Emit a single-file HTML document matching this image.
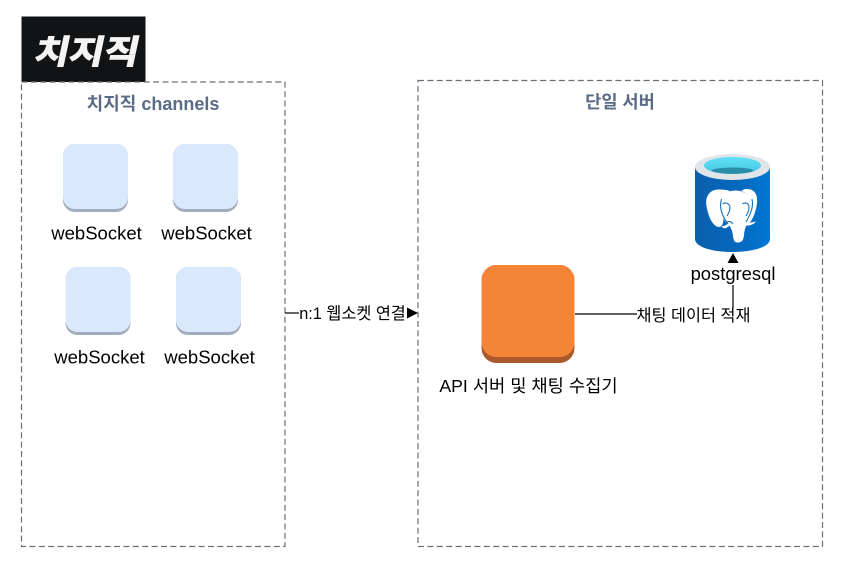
<!DOCTYPE html>
<html>
<head>
<meta charset="utf-8">
<style>
html,body{margin:0;padding:0;background:#fff;width:848px;height:579px;overflow:hidden}
svg{display:block}
text{font-family:"Liberation Sans","Noto Sans CJK KR",sans-serif}
</style>
</head>
<body>
<svg width="848" height="579" viewBox="0 0 848 579" xmlns="http://www.w3.org/2000/svg">
<defs>
<linearGradient id="cyl" x1="0" x2="1" y1="0" y2="0">
<stop offset="0" stop-color="#0a5fad"/><stop offset="0.6" stop-color="#0669bd"/><stop offset="1" stop-color="#0078d4"/>
</linearGradient>
<linearGradient id="water" x1="0" x2="0" y1="0" y2="1">
<stop offset="0" stop-color="#5fe0f5"/><stop offset="1" stop-color="#46c8e6"/>
</linearGradient>
</defs>
<rect width="848" height="579" fill="#fff"/>

<!-- logo -->
<rect x="21.5" y="16.5" width="124" height="65.5" fill="#121314"/>
<text x="85.5" y="63.5" text-anchor="middle" font-size="33" font-weight="700" fill="#f4f4f4" stroke="#f4f4f4" stroke-width="1.2" transform="translate(13 0) skewX(-12)" textLength="104" lengthAdjust="spacingAndGlyphs">치지직</text>

<!-- containers -->
<rect x="21.5" y="82" width="263.5" height="464.5" fill="none" stroke="#6d6f78" stroke-width="1.2" stroke-dasharray="6 3.4"/>
<rect x="418" y="80.5" width="404.5" height="466" fill="none" stroke="#6d6f78" stroke-width="1.2" stroke-dasharray="6 3.4"/>
<text x="153" y="110" text-anchor="middle" font-size="18" font-weight="700" fill="#5a6c86">치지직 channels</text>
<text x="620" y="108" text-anchor="middle" font-size="17.6" font-weight="700" fill="#5a6c86">단일 서버</text>

<!-- tiles -->
<g>
<rect x="63" y="144" width="65" height="68" rx="12" fill="#a3adbe"/>
<rect x="63" y="144" width="65" height="65" rx="12" fill="#dae8fc"/>
<rect x="173" y="144" width="65" height="68" rx="12" fill="#a3adbe"/>
<rect x="173" y="144" width="65" height="65" rx="12" fill="#dae8fc"/>
<rect x="65.5" y="267" width="65" height="68" rx="12" fill="#a3adbe"/>
<rect x="65.5" y="267" width="65" height="65" rx="12" fill="#dae8fc"/>
<rect x="176" y="267" width="65" height="68" rx="12" fill="#a3adbe"/>
<rect x="176" y="267" width="65" height="65" rx="12" fill="#dae8fc"/>
</g>
<g font-size="18.5" fill="#000" text-anchor="middle">
<text x="96.5" y="239.5">webSocket</text>
<text x="206.5" y="239.5">webSocket</text>
<text x="99.5" y="363.5">webSocket</text>
<text x="209.5" y="363.5">webSocket</text>
</g>

<!-- orange server -->
<rect x="481.5" y="265" width="93" height="98" rx="15" fill="#a9592a"/>
<rect x="481.5" y="265" width="93" height="92" rx="15" fill="#f58536"/>
<text x="528.5" y="392" text-anchor="middle" font-size="17.7" fill="#000">API 서버 및 채팅 수집기</text>

<!-- connectors -->
<line x1="285" y1="313" x2="299" y2="313" stroke="#000" stroke-width="1.2"/>
<path d="M407 307.5 L418 313 L407 318.5 Z" fill="#000"/>
<text x="352.5" y="319" text-anchor="middle" font-size="16.3" fill="#000">n:1 웹소켓 연결</text>
<line x1="575" y1="314" x2="637" y2="314" stroke="#000" stroke-width="1.2"/>
<line x1="733" y1="285" x2="733" y2="308" stroke="#000" stroke-width="1.2"/>
<path d="M727.5 263 L733 253 L738.5 263 Z" fill="#000"/>
<text x="693.5" y="321" text-anchor="middle" font-size="16.3" fill="#000">채팅 데이터 적재</text>
<text x="733" y="280" text-anchor="middle" font-size="18.4" fill="#000">postgresql</text>

<!-- cylinder -->
<path d="M695 167 L695 239 C695 247 712 252 732.5 252 C753 252 770 247 770 239 L770 167 Z" fill="url(#cyl)"/>
<ellipse cx="732.5" cy="167" rx="37.5" ry="13" fill="#dfe5e8"/>
<ellipse cx="732.5" cy="165.5" rx="28.5" ry="8.5" fill="url(#water)"/>
<path d="M711 170.5 C716 166.5 749 166.5 754 170.5 C749 175 716 175 711 170.5 Z" fill="#2b8ea8"/>

<!-- elephant -->
<g fill="#fff">
<path d="M718 189.5 C709 190 705 197 706.5 206 C708 216 713 227 719 227 C724 227 724 218 723 210 C722 201 725 194 730 191 C726 189.5 722 189.5 718 189.5 Z"/>
<path d="M746 189 C754 188.5 758 194 757 203 C756 212 752 222 748 224 C746 220 750 210 750 204 C750 198 746 192 741 191 C743 190 744 189 746 189 Z"/>
<path d="M735.5 190.5 C726 190.5 720.5 197 721 207 C721.5 216 725 222 728 224.5 C731 227 732.5 231 733 236 C733.5 241 735 243 738.5 242.5 C742 242 743.5 240 744 235 C744.5 229 746 226 748 222 C750.5 217 752 212 752 206 C752 197 745 190.5 735.5 190.5 Z"/>
<path d="M721.5 226 C724 226 727 225 730 222 C730 226 727 229 723 228 Z"/>
<path d="M745.5 222.5 C748 223 752 222.5 756 221.5 C754 224.5 749 226 745.5 225.5 Z"/>
</g>
<g fill="none" stroke="#1a6fb8" stroke-width="1.1">
<path d="M721.5 199 C719 207 722 216 728 224"/>
<path d="M722.5 204 C725 202 729 203 730 207 C730 212 728 214 727 216"/>
<path d="M752 199 C754 207 750 215 746 222"/>
<path d="M742.5 204 C745 202 749 203 749 207 C749 212 747 214 746 216"/>
<path d="M724 226 C726 221 730 220 733 224"/>
</g>
</svg>
</body>
</html>
